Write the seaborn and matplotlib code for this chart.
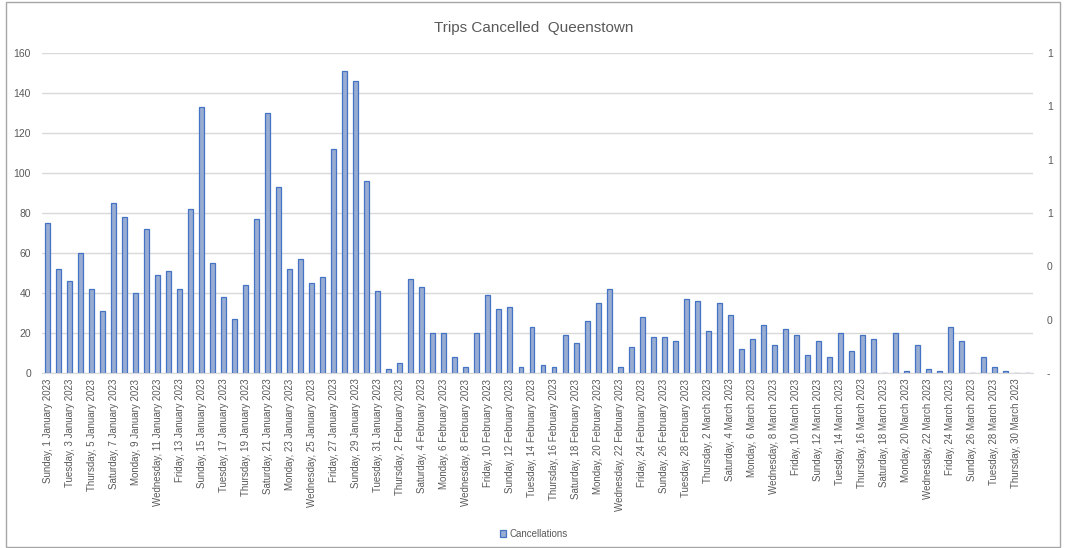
import pandas as pd
import matplotlib
matplotlib.use("Agg")
import matplotlib.pyplot as plt
import seaborn as sns
from matplotlib.patches import Rectangle

# donnees : annulations par jour (1 janvier - 31 mars 2023)
jours = pd.date_range("2023-01-01", "2023-03-31", freq="D")
cancellations = [
    75, 52, 46, 60, 42, 31, 85, 78, 40, 72, 49, 51, 42, 82, 133, 55, 38, 27, 44, 77,
    130, 93, 52, 57, 45, 48, 112, 151, 146, 96, 41,
    2, 5, 47, 43, 20, 20, 8, 3, 20, 39, 32, 33, 3, 23, 4, 3, 19, 15, 26, 35,
    42, 3, 13, 28, 18, 18, 16, 37,
    36, 21, 35, 29, 12, 17, 24, 14, 22, 19, 9, 16, 8, 20, 11, 19, 17, 0, 20, 1,
    14, 2, 1, 23, 16, 0, 8, 3, 1, 0, 0,
]
labels = [d.strftime("%A, ") + str(d.day) + d.strftime(" %B %Y") for d in jours]
right_ticks = [0, 0.2, 0.4, 0.6, 0.8, 1.0, 1.2]
right_labels = ["-", "0", "0", "1", "1", "1", "1"]

data = pd.DataFrame({"jour": labels, "Cancellations": cancellations})

sns.set_style("white")
plt.rcParams["font.family"] = ["Liberation Sans", "DejaVu Sans"]
gris = "#595959"

fig = plt.figure(figsize=(10.67, 5.48), dpi=100)
ax = fig.add_axes([42 / 1067, 1 - 373 / 548, (1033 - 42) / 1067, 320 / 548])

sns.barplot(data=data, x="jour", y="Cancellations", ax=ax, width=0.45,
            color="#8faadc", edgecolor="#4472c4", linewidth=0.9,
            label="Cancellations")

ax.set_ylim(0, 160)
ax.set_yticks(range(0, 161, 20))
ax.set_xlim(-0.5, len(labels) - 0.5)
ax.yaxis.grid(True, color="#d9d9d9", linewidth=1)
ax.set_axisbelow(True)
ax.set_xlabel("")
ax.set_ylabel("")
ax.set_xticks(range(0, len(labels), 2))
ax.set_xticklabels(labels[::2], rotation=90, fontsize=7, color=gris)
ax.set_xticks([i + 0.5 for i in range(-1, len(labels))], minor=True)
ax.tick_params(axis="x", which="major", length=0, pad=4)
ax.tick_params(axis="x", which="minor", length=4, color="#d9d9d9", width=1)
ax.tick_params(axis="y", length=0, labelsize=7.5, labelcolor=gris, pad=8)
for s in ["top", "right", "left"]:
    ax.spines[s].set_visible(False)
ax.spines["bottom"].set_color("#d9d9d9")
ax.legend().remove()

# axe secondaire
ax2 = ax.twinx()
ax2.set_ylim(0, 1.2)
ax2.set_yticks(right_ticks)
ax2.set_yticklabels(right_labels)
ax2.tick_params(axis="y", length=0, labelsize=7.5, labelcolor=gris, pad=10)
for s in ax2.spines.values():
    s.set_visible(False)

fig.text(0.5, 1 - 28 / 548, "Trips Cancelled  Queenstown", ha="center", va="center",
         fontsize=11, color=gris)

handles, lbls = ax.get_legend_handles_labels()
fig.legend(handles[:1], ["Cancellations"], loc="center", bbox_to_anchor=(0.5, 1 - 534 / 548),
           frameon=False, fontsize=7, labelcolor=gris, handlelength=0.7, handleheight=0.7,
           handletextpad=0.3)

# cadre
fig.patches.append(Rectangle((6 / 1067, 1 / 548), 1054 / 1067, 545 / 548,
                             transform=fig.transFigure, fill=False,
                             edgecolor="#a6a6a6", linewidth=1))

fig.savefig("out.png", dpi=100)
